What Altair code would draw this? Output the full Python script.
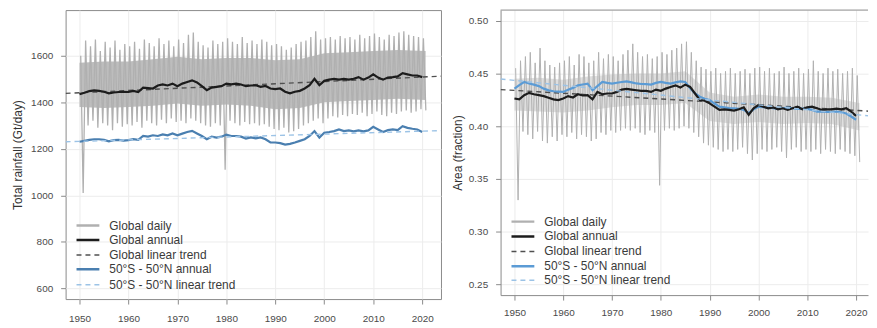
import altair as alt
import pandas as pd

FONT = "Liberation Sans"

years = list(range(1950, 2021))
x_ticks = [1950, 1960, 1970, 1980, 1990, 2000, 2010, 2020]

legend_labels = ["Global daily", "Global annual", "Global linear trend",
                 "50°S - 50°N annual", "50°S - 50°N linear trend"]

# ---------------- Left panel: total rainfall (Gt/day) ----------------
global_annual_L = [1435, 1441, 1448, 1451, 1449, 1445, 1438, 1442, 1444, 1445,
                   1444, 1449, 1444, 1463, 1461, 1459, 1472, 1477, 1472, 1480,
                   1469, 1480, 1487, 1494, 1485, 1469, 1452, 1463, 1466, 1469,
                   1480, 1477, 1480, 1476, 1469, 1472, 1473, 1466, 1470, 1459,
                   1456, 1459, 1445, 1438, 1445, 1449, 1459, 1473, 1501, 1473,
                   1492, 1497, 1500, 1497, 1500, 1497, 1501, 1508, 1497, 1506,
                   1520, 1506, 1497, 1506, 1508, 1511, 1525, 1520, 1515, 1515,
                   1508]
tropic_annual_L = [1230, 1234, 1238, 1241, 1241, 1238, 1232, 1237, 1238, 1235,
                   1237, 1241, 1238, 1255, 1252, 1258, 1255, 1262, 1258, 1266,
                   1258, 1265, 1272, 1277, 1266, 1255, 1241, 1252, 1248, 1252,
                   1261, 1255, 1255, 1252, 1244, 1249, 1245, 1249, 1241, 1227,
                   1227, 1224, 1218, 1221, 1227, 1234, 1241, 1255, 1276, 1248,
                   1269, 1272, 1276, 1283, 1276, 1279, 1275, 1279, 1275, 1279,
                   1294, 1283, 1272, 1280, 1283, 1280, 1297, 1290, 1286, 1283,
                   1272]
daily_hi_L = [1600, 1665, 1640, 1670, 1620, 1660, 1635, 1665, 1625, 1650,
              1640, 1660, 1630, 1670, 1655, 1640, 1675, 1650, 1665, 1640,
              1670, 1655, 1690, 1700, 1660, 1645, 1635, 1665, 1650, 1660,
              1675, 1660, 1650, 1680, 1655, 1665, 1650, 1670, 1660, 1645,
              1650, 1640, 1625, 1635, 1650, 1660, 1665, 1680, 1705, 1670,
              1675, 1680, 1670, 1685, 1675, 1680, 1670, 1690, 1675, 1685,
              1695, 1680, 1670, 1690, 1685, 1700, 1705, 1690, 1685, 1680,
              1675]
daily_lo_L = [1010, 1300, 1320, 1290, 1310, 1300, 1280, 1310, 1295, 1305,
              1300, 1315, 1290, 1320, 1310, 1300, 1325, 1310, 1330, 1315,
              1320, 1310, 1330, 1320, 1310, 1300, 1295, 1310, 1300, 1110,
              1320, 1310, 1300, 1315, 1305, 1310, 1300, 1305, 1295, 1285,
              1280, 1290, 1270, 1275, 1285, 1300, 1310, 1320, 1330, 1310,
              1330, 1340, 1335, 1345, 1340, 1350, 1345, 1355, 1340, 1350,
              1360, 1345, 1340, 1355, 1350, 1360, 1365, 1355, 1360, 1370,
              1365]
core_years = [1950, 1955, 1960, 1965, 1970, 1975, 1980, 1985, 1990, 1995,
              2000, 2005, 2010, 2015, 2020.7]
core_hi_L = [1570, 1575, 1575, 1585, 1595, 1585, 1590, 1590, 1580, 1585,
             1610, 1615, 1620, 1625, 1620]
core_lo_L = [1380, 1375, 1380, 1385, 1395, 1385, 1390, 1385, 1370, 1375,
             1400, 1405, 1410, 1415, 1410]
trend_x = [1947.16, 2023.84]
global_trend_L = [1438, 1512]
tropic_trend_L = [1230, 1278]

# ---------------- Right panel: rain area (fraction) ----------------
global_annual_R = [0.4263, 0.4254, 0.4294, 0.4316, 0.4303, 0.4294, 0.4285, 0.4269, 0.4254, 0.4248,
                   0.4263, 0.4285, 0.4272, 0.4303, 0.4291, 0.4294, 0.4254, 0.4325, 0.4303, 0.4310,
                   0.4310, 0.4325, 0.4347, 0.4353, 0.4347, 0.4341, 0.4335, 0.4335, 0.4325, 0.4347,
                   0.4335, 0.4356, 0.4372, 0.4387, 0.4366, 0.4394, 0.4372, 0.4310, 0.4248, 0.4241,
                   0.4216, 0.4185, 0.4154, 0.4160, 0.4154, 0.4148, 0.4160, 0.4179, 0.4108, 0.4170,
                   0.4201, 0.4185, 0.4170, 0.4179, 0.4160, 0.4170, 0.4154, 0.4170, 0.4185, 0.4160,
                   0.4179, 0.4185, 0.4170, 0.4154, 0.4160, 0.4160, 0.4166, 0.4160, 0.4170, 0.4139,
                   0.4098]
tropic_annual_R = [0.4356, 0.4390, 0.4419, 0.4405, 0.4394, 0.4380, 0.4356, 0.4340, 0.4331, 0.4328,
                   0.4325, 0.4345, 0.4363, 0.4387, 0.4395, 0.4403, 0.4341, 0.4380, 0.4419, 0.4410,
                   0.4403, 0.4412, 0.4419, 0.4425, 0.4415, 0.4405, 0.4400, 0.4398, 0.4394, 0.4410,
                   0.4419, 0.4410, 0.4403, 0.4415, 0.4425, 0.4419, 0.4360, 0.4310, 0.4279, 0.4260,
                   0.4248, 0.4215, 0.4185, 0.4178, 0.4172, 0.4170, 0.4165, 0.4154, 0.4123, 0.4160,
                   0.4185, 0.4180, 0.4176, 0.4170, 0.4164, 0.4170, 0.4176, 0.4170, 0.4164, 0.4166,
                   0.4164, 0.4155, 0.4139, 0.4140, 0.4135, 0.4136, 0.4139, 0.4132, 0.4120, 0.4092,
                   0.4061]
daily_hi_R = [0.455, 0.462, 0.466, 0.470, 0.460, 0.474, 0.462, 0.458, 0.456, 0.460,
              0.462, 0.466, 0.458, 0.468, 0.466, 0.460, 0.462, 0.470, 0.464, 0.468,
              0.466, 0.462, 0.468, 0.472, 0.478, 0.470, 0.466, 0.468, 0.464, 0.466,
              0.470, 0.468, 0.472, 0.474, 0.478, 0.480, 0.470, 0.462, 0.456, 0.454,
              0.452, 0.455, 0.450, 0.452, 0.455, 0.450, 0.452, 0.454, 0.450, 0.455,
              0.456, 0.452, 0.455, 0.450, 0.452, 0.456, 0.450, 0.452, 0.455, 0.450,
              0.454, 0.462, 0.452, 0.450, 0.455, 0.452, 0.454, 0.450, 0.452, 0.455,
              0.448]
daily_lo_R = [0.330, 0.395, 0.392, 0.388, 0.395, 0.386, 0.384, 0.390, 0.386, 0.392,
              0.390, 0.394, 0.388, 0.392, 0.390, 0.386, 0.388, 0.394, 0.392, 0.396,
              0.394, 0.396, 0.398, 0.396, 0.398, 0.394, 0.392, 0.396, 0.394, 0.344,
              0.396, 0.398, 0.396, 0.398, 0.400, 0.398, 0.394, 0.390, 0.384, 0.382,
              0.380, 0.378, 0.376, 0.378, 0.376, 0.378, 0.380, 0.374, 0.368, 0.374,
              0.378, 0.376, 0.378, 0.380, 0.376, 0.370, 0.378, 0.380, 0.376, 0.378,
              0.376, 0.378, 0.374, 0.378, 0.376, 0.374, 0.378, 0.376, 0.374, 0.372,
              0.366]
core_hi_R = [0.445, 0.446, 0.444, 0.447, 0.449, 0.450, 0.450, 0.452, 0.432, 0.428,
             0.430, 0.428, 0.428, 0.427, 0.422]
core_lo_R = [0.415, 0.414, 0.413, 0.415, 0.418, 0.420, 0.420, 0.422, 0.405, 0.402,
             0.404, 0.402, 0.403, 0.402, 0.396]
global_trend_R = [0.4347, 0.4139]
tropic_trend_R = [0.4447, 0.4092]

GRAY = "#b0b0b0"
BLACK = "#1c1c1c"
TREND = "#505050"
LBLUE = "#9cc3e6"


def make_panel(x_dom, y_dom, y_ticks, y_fmt, y_title, width, height,
               g_ann, t_ann, hi, lo, c_hi, c_lo, g_tr, t_tr, blue,
               leg_y, title_pad, frame_right, spike_w, core_col, core_op, x_pad):
    xs = alt.X("x:Q", scale=alt.Scale(domain=x_dom, nice=False, zero=False),
               axis=alt.Axis(values=x_ticks, format="d", title=None, tickSize=5,
                             labelPadding=x_pad, domain=not frame_right,
                             domainColor="#8a8a8a"))
    ys = alt.Y("y:Q", scale=alt.Scale(domain=y_dom, nice=False, zero=False),
               axis=alt.Axis(values=y_ticks, format=y_fmt, title=y_title, tickSize=5,
                             labelPadding=8, minExtent=33, maxExtent=33,
                             titlePadding=title_pad, domain=not frame_right,
                             domainColor="#8a8a8a"))

    zz = []
    for yr, h, l in zip(years, hi, lo):
        zz.append({"x": yr + 0.25, "y": h})
        zz.append({"x": yr + 0.75, "y": l})
    zz_df = pd.DataFrame(zz)
    core_df = pd.DataFrame({"x": core_years, "y": c_lo, "y2": c_hi})
    ann_g = pd.DataFrame({"x": years, "y": g_ann})
    ann_t = pd.DataFrame({"x": years, "y": t_ann})
    tr_g = pd.DataFrame({"x": trend_x, "y": g_tr})
    tr_t = pd.DataFrame({"x": trend_x, "y": t_tr})

    layers = [
        alt.Chart(core_df).mark_area(color=core_col, opacity=core_op, clip=True).encode(
            x=xs, y=ys, y2="y2:Q"),
        alt.Chart(zz_df).mark_line(color=GRAY, strokeWidth=spike_w, clip=True).encode(x=xs, y=ys),
        alt.Chart(tr_g).mark_line(color=TREND, strokeWidth=1.4, strokeDash=[5, 4], clip=True).encode(x=xs, y=ys),
        alt.Chart(ann_t).mark_line(color=blue, strokeWidth=2.2, clip=True).encode(x=xs, y=ys),
        alt.Chart(ann_g).mark_line(color=BLACK, strokeWidth=2.2, clip=True).encode(x=xs, y=ys),
        alt.Chart(tr_t).mark_line(color=LBLUE, strokeWidth=1.4, strokeDash=[5, 4], clip=True).encode(x=xs, y=ys),
    ]

    styles = [(GRAY, [1, 0], 2.5), (BLACK, [1, 0], 2.5), (TREND, [5, 4], 1.5),
              (blue, [1, 0], 2.5), (LBLUE, [5, 4], 1.5)]
    one = pd.DataFrame({"a": [0]})
    for i, (lab, (col, dash, sw)) in enumerate(zip(legend_labels, styles)):
        yy = leg_y[i]
        layers.append(alt.Chart(one).mark_rule(color=col, strokeWidth=sw, strokeDash=dash).encode(
            x=alt.value(11), x2=alt.value(34), y=alt.value(yy)))
        layers.append(alt.Chart(pd.DataFrame({"t": [lab]})).mark_text(
            align="left", baseline="middle", fontSize=12, font=FONT, color="#3a3a3a").encode(
            x=alt.value(44), y=alt.value(yy), text="t:N"))

    if frame_right:
        view = alt.ViewBackground(stroke="#8a8a8a", strokeWidth=1)
    else:
        view = alt.ViewBackground(stroke="transparent")
        layers.append(alt.Chart(one).mark_rule(color="#8a8a8a", strokeWidth=1).encode(
            x=alt.value(0), x2=alt.value(width), y=alt.value(0)))

    return alt.layer(*layers).properties(width=width, height=height, view=view)


left = make_panel([1947.16, 2023.84], [554, 1796], [600, 800, 1000, 1200, 1400, 1600], "d",
                  "Total rainfall (Gt/day)", 378, 291,
                  global_annual_L, tropic_annual_L, daily_hi_L, daily_lo_L, core_hi_L, core_lo_L,
                  global_trend_L, tropic_trend_L, "#4a7fb0",
                  [217, 231.5, 246.5, 261, 276.5], 8, True, 1.3, "#b6b6b6", 0.9, 10)

right = make_panel([1947.16, 2022.45], [0.24, 0.51], [0.25, 0.30, 0.35, 0.40, 0.45, 0.50], ".2f",
                   "Area (fraction)", 370, 287,
                   global_annual_R, tropic_annual_R, daily_hi_R, daily_lo_R, core_hi_R, core_lo_R,
                   global_trend_R, tropic_trend_R, "#5b9bd5",
                   [213, 228, 243, 258, 272], 3, False, 1.0, "#c4c4c4", 0.55, 8)

chart = alt.hconcat(left, right, spacing=9).properties(
    padding={"left": 3, "top": 0, "right": 0, "bottom": 0}
).configure_axis(
    labelFont=FONT, titleFont=FONT, labelFontSize=10, titleFontSize=12,
    labelColor="#4a4a4a", titleColor="#333333", titleFontWeight="normal",
    tickColor="#8a8a8a", gridColor="#ececec", grid=True
).configure_view(stroke="#8a8a8a")

chart.save("out.html", embed_options={"renderer": "svg", "actions": False})
